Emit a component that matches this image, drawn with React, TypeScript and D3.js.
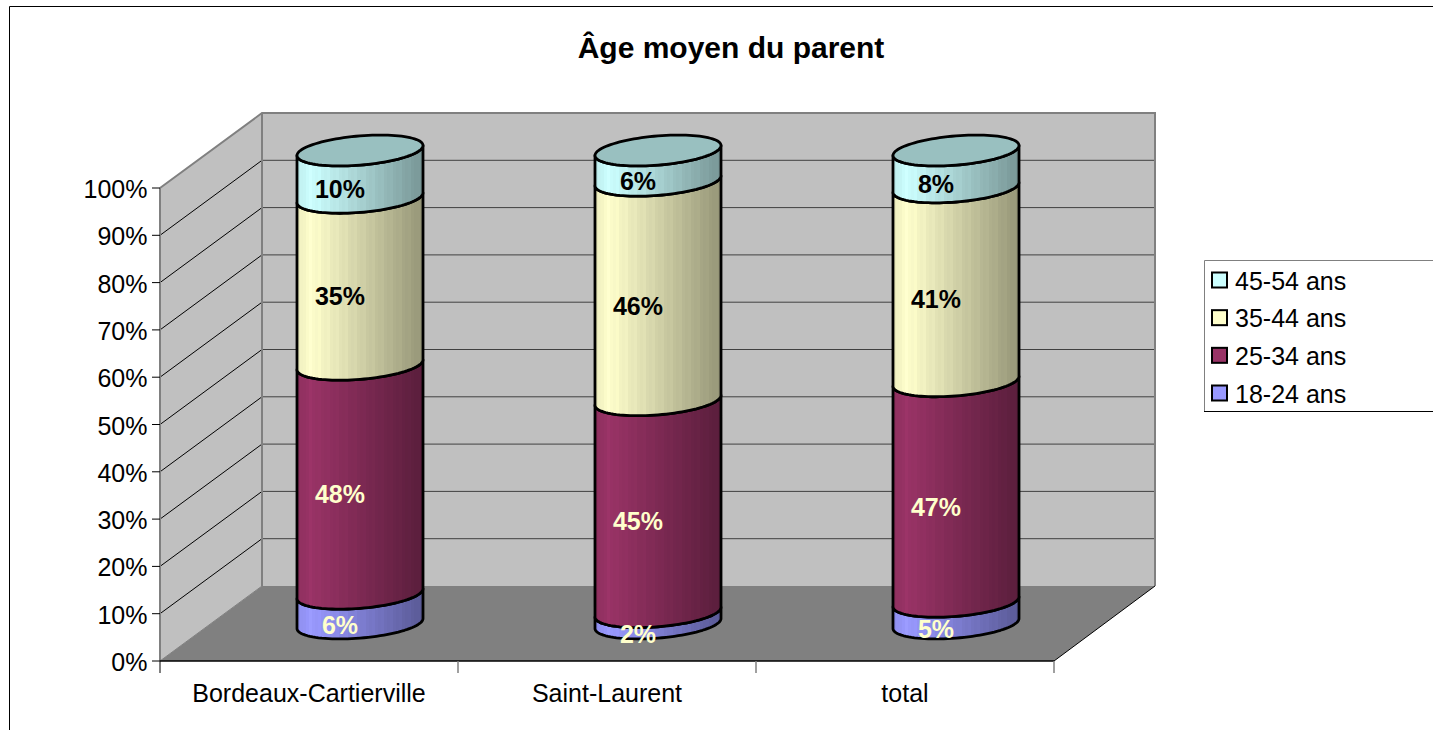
import React from "react";
import * as d3 from "d3";

const categories = ["Bordeaux-Cartierville", "Saint-Laurent", "total"];
const seriesNames = ["18-24 ans", "25-34 ans", "35-44 ans", "45-54 ans"];
const seriesColors = ["#9999FF", "#993366", "#FFFFCC", "#CCFFFF"];
const labelColors = ["#FFFFCC", "#FFFFCC", "#000000", "#000000"];
const age18 = [6.3, 2.4, 4.6];
const age25 = [48.4, 44.8, 46.6];
const age35 = [35.3, 46.4, 41.0];
const age45 = [10.0, 6.4, 7.8];
const seriesValues = [age18, age25, age35, age45];
const ticks = [0, 10, 20, 30, 40, 50, 60, 70, 80, 90, 100];

const FONT = "'Liberation Sans', Arial, sans-serif";
const DX = 102, DY = 75;
const x = d3.scaleBand<string>().domain(categories).range([160, 1054]);
const y = d3.scaleLinear().domain([0, 100]).range([661, 188]);
const RX = 63, TILT = -5, RY = 14.6;

const ell = (cx: number, cy: number, t: number): [number, number] => [
  cx + RX * Math.cos(t),
  cy + TILT * Math.cos(t) + RY * Math.sin(t),
];
const line = d3.line();
const N = 48;
const frontArc = (cx: number, cy: number) =>
  d3.range(N + 1).map((i) => ell(cx, cy, (Math.PI * i) / N));

const shade = (t: number) => {
  const base = t < 0.1 ? 0.9 + t : 1 - (0.42 * (t - 0.1)) / 0.9;
  return base;
};
const BANDS = 42;

function Grad({ id, color }: { id: string; color: string }) {
  const c = d3.rgb(color);
  const stops: React.ReactNode[] = [];
  for (let i = 0; i < BANDS; i++) {
    const t = (i + 0.5) / BANDS;
    const f = shade(t) * (i % 3 === 1 ? 1.02 : 1);
    const col = `rgb(${Math.min(255, c.r * f)},${Math.min(255, c.g * f)},${Math.min(255, c.b * f)})`;
    stops.push(<stop key={i + "a"} offset={i / BANDS} stopColor={col} />);
    stops.push(<stop key={i + "b"} offset={(i + 1) / BANDS} stopColor={col} />);
  }
  return (
    <linearGradient id={id} x1="0" x2="1" y1="0" y2="0">
      {stops}
    </linearGradient>
  );
}

export default function App() {
  const yBack = (v: number) => y(v) - DY;
  const stack = d3.stack<number>()
    .keys(d3.range(seriesNames.length) as any)
    .value((i: number, k: any) => seriesValues[k][i])(d3.range(categories.length));
  const lx0 = 1204, ly0 = 260, ly1 = 411;
  const rowY = d3.scalePoint<string>().domain([...seriesNames].reverse()).range([280.5, 393.5]);

  return (
    <svg width={1433} height={730} style={{ position: "absolute", left: 0, top: 0 }} fontFamily={FONT}>
      <defs>
        {seriesColors.map((c, i) => <Grad key={i} id={`g${i}`} color={c} />)}
      </defs>
      <rect width={1433} height={730} fill="#fff" />
      <path d="M9.5 731V6.5H1434" fill="none" stroke="#000" strokeWidth={1} />
      <text x={731} y={58} textAnchor="middle" fontSize={30} fontWeight="bold">Âge moyen du parent</text>

      {/* walls */}
      <polygon points={`262,${yBack(100)} 1155,${yBack(100)} 1155,${yBack(0)} 262,${yBack(0)}`} fill="#C0C0C0" />
      <polygon points={`160,${y(100)} 262,${yBack(100)} 262,${yBack(0)} 160,${y(0)}`} fill="#C0C0C0" />
      <polygon points={`160,${y(0)} 262,${yBack(0)} 1155,${yBack(0)} 1054,${y(0)}`} fill="#808080" />
      {ticks.slice(1, -1).map((t) => (
        <g key={t}>
          <line x1={262} x2={1155} y1={yBack(t)} y2={yBack(t)} stroke="#404040" strokeWidth={1} />
          <line x1={160} x2={262} y1={y(t)} y2={yBack(t)} stroke="#000" strokeWidth={1} />
        </g>
      ))}
      <path d={`M160 ${y(100)}L262 ${yBack(100)}H1155V${yBack(0)}`} fill="none" stroke="#808080" strokeWidth={2} />
      <line x1={262} x2={262} y1={yBack(100)} y2={yBack(0)} stroke="#808080" strokeWidth={2} />
      <line x1={160} x2={262} y1={y(0)} y2={yBack(0)} stroke="#808080" strokeWidth={1} />
      <line x1={1054} x2={1155} y1={y(0)} y2={yBack(0)} stroke="#000" strokeWidth={1} />

      {/* axes */}
      <line x1={160} x2={160} y1={y(100)} y2={y(0) + 12} stroke="#808080" strokeWidth={2} />
      <line x1={160} x2={1054} y1={y(0)} y2={y(0)} stroke="#000" strokeWidth={1.5} />
      {[...categories.map((c) => x(c)!), 1054].slice(1).map((px) => (
        <line key={px} x1={px} x2={px} y1={y(0)} y2={y(0) + 12} stroke="#808080" strokeWidth={1.5} />
      ))}
      {ticks.map((t) => (
        <g key={t}>
          <line x1={152} x2={160} y1={y(t)} y2={y(t)} stroke="#000" strokeWidth={1} />
          <text x={147.5} y={y(t) + 10} textAnchor="end" fontSize={25}>{t}%</text>
        </g>
      ))}
      {categories.map((c) => (
        <text key={c} x={x(c)! + x.bandwidth() / 2} y={702} textAnchor="middle" fontSize={25}>{c}</text>
      ))}

      {/* cylinders */}
      {categories.map((c, ci) => {
        const cx = x(c)! + x.bandwidth() / 2 + DX / 2;
        const cyAt = (v: number) => y(v) - DY / 2;
        return (
          <g key={c}>
            {stack.map((s, si) => {
              const [v0, v1] = s[ci];
              const lower = frontArc(cx, cyAt(v0));
              const upper = frontArc(cx, cyAt(v1)).reverse();
              return (
                <path key={si} d={line([...lower, ...upper])! + "Z"} fill={`url(#g${si})`}
                  stroke="#000" strokeWidth={2.8} strokeLinejoin="round" />
              );
            })}
            <path
              d={line(d3.range(97).map((i) => ell(cx, cyAt(stack[3][ci][1]), (Math.PI * i) / 48)))! + "Z"}
              fill={d3.rgb(seriesColors[3]).darker(0.8).formatHex()}
              stroke="#000" strokeWidth={2.8} />
            {stack.map((s, si) => {
              const [v0, v1] = s[ci];
              return (
                <text key={si} x={cx - 20} y={cyAt((v0 + v1) / 2) + (si === 0 ? 25 : 24)} textAnchor="middle"
                  fontSize={25} fontWeight="bold" fill={labelColors[si]}>
                  {Math.round(seriesValues[si][ci])}%
                </text>
              );
            })}
          </g>
        );
      })}

      {/* legend */}
      <rect x={lx0 + 0.5} y={ly0 + 0.5} width={300} height={ly1 - ly0} fill="#fff" stroke="none" />
      <path d={`M1434 ${ly0 + 0.5}H${lx0 + 0.5}V${ly1 + 0.5}`} fill="none" stroke="#808080" strokeWidth={1} />
      <line x1={lx0} x2={1434} y1={ly1 + 0.5} y2={ly1 + 0.5} stroke="#000" strokeWidth={1} />
      {seriesNames.map((n, i) => {
        const ry = rowY(n)!;
        return (
          <g key={n}>
            <rect x={1212} y={ry - 8} width={15} height={15} fill={seriesColors[i]} stroke="#000" strokeWidth={2} />
            <text x={1235} y={ry + 9} fontSize={25}>{n}</text>
          </g>
        );
      })}
    </svg>
  );
}
